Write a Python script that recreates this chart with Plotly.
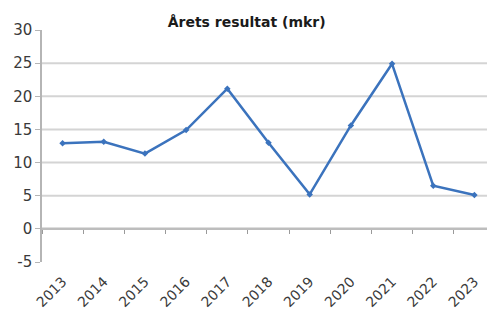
import plotly.graph_objects as go

years = ["2013", "2014", "2015", "2016", "2017", "2018", "2019", "2020", "2021", "2022", "2023"]
resultat = [12.9, 13.15, 11.35, 14.9, 21.15, 13.0, 5.2, 15.6, 24.9, 6.5, 5.1]
y_ticks = [-5, 0, 5, 10, 15, 20, 25, 30]
y_ticktext = ["-5", "0", "5", "10", "15", "20", "25", "30"]
grid_vals = [5, 10, 15, 20, 25]
title_text = "Årets resultat (mkr)"

fig = go.Figure()
fig.add_trace(go.Scatter(
    x=years, y=resultat, mode="lines+markers",
    line=dict(color="#3b73bd", width=2.5),
    marker=dict(symbol="diamond", size=5, color="#3b73bd"),
    showlegend=False,
))
# dummy trace for the tick-axis at y=0
fig.add_trace(go.Scatter(x=years, y=[None]*len(years), xaxis="x2", showlegend=False, hoverinfo="skip"))

for g in grid_vals:
    fig.add_shape(type="line", xref="paper", x0=0, x1=1, yref="y", y0=g, y1=g,
                  line=dict(color="#d4d4d4", width=2), layer="below")
fig.add_shape(type="line", xref="paper", x0=0, x1=1, yref="y", y0=0, y1=0,
              line=dict(color="#bdbdbd", width=2.5), layer="below")

font_col = "#3a3a3a"
fam = "DejaVu Sans, Verdana, sans-serif"
fig.update_layout(
    width=487, height=303,
    margin=dict(l=34, r=0, t=22, b=49),
    paper_bgcolor="white", plot_bgcolor="white",
    font=dict(family=fam, size=15, color=font_col),
    title=dict(text="<b>" + title_text + "</b>", x=0.49, xanchor="center", y=0.955, yanchor="middle",
               font=dict(size=14, color="#1a1a1a", family=fam)),
    xaxis=dict(type="category", range=[-0.5, 10.5], showgrid=False, showline=False, automargin=False,
               ticks="outside", ticklen=5, tickcolor="rgba(0,0,0,0)",
               tickangle=-45, tickfont=dict(size=14, color=font_col), zeroline=False),
    xaxis2=dict(type="category", range=[-0.5, 10.5], overlaying="x", anchor="free",
                position=5/35, showticklabels=False, ticks="outside", ticklen=4,
                tickcolor="#9a9a9a", tickson="boundaries", showline=False, showgrid=False),
    yaxis=dict(range=[-5, 30], tickvals=y_ticks, ticktext=y_ticktext, showgrid=False, zeroline=False,
               automargin=False,
               showline=True, linecolor="#b5b5b5", linewidth=1.5, ticks="outside",
               ticklen=5, tickcolor="#b5b5b5", tickfont=dict(size=15, color=font_col)),
)
fig.write_html("out.html")
